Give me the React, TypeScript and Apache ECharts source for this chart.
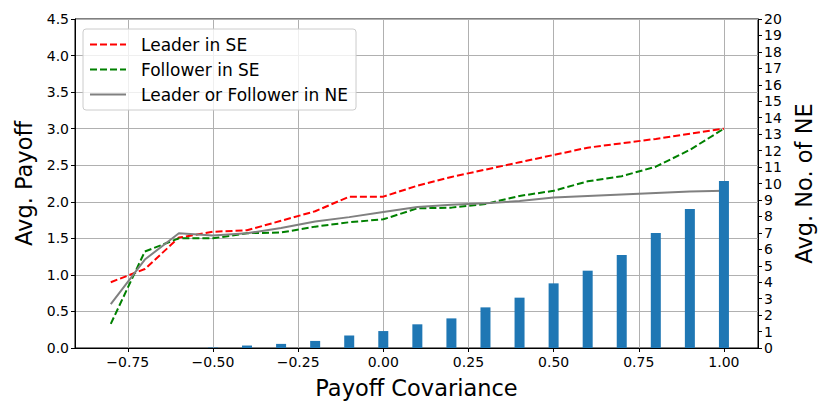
import React, { useEffect, useRef } from "react";
import * as echarts from "echarts";

const xValues = [-0.8, -0.7, -0.6, -0.5, -0.4, -0.3, -0.2, -0.1, 0.0, 0.1, 0.2, 0.3, 0.4, 0.5, 0.6, 0.7, 0.8, 0.9, 1.0];
const leaderSE = [0.90, 1.08, 1.51, 1.59, 1.61, 1.74, 1.87, 2.07, 2.07, 2.22, 2.34, 2.44, 2.54, 2.64, 2.74, 2.80, 2.86, 2.93, 3.00];
const followerSE = [0.33, 1.32, 1.50, 1.50, 1.57, 1.58, 1.66, 1.72, 1.76, 1.91, 1.92, 1.97, 2.08, 2.15, 2.28, 2.35, 2.48, 2.71, 3.00];
const leaderOrFollowerNE = [0.60, 1.21, 1.57, 1.54, 1.57, 1.64, 1.73, 1.79, 1.86, 1.93, 1.96, 1.98, 2.01, 2.06, 2.08, 2.10, 2.12, 2.14, 2.15];

const barX = [-0.5, -0.4, -0.3, -0.2, -0.1, 0.0, 0.1, 0.2, 0.3, 0.4, 0.5, 0.6, 0.7, 0.8, 0.9, 1.0];
const numNE = [0.03, 0.15, 0.25, 0.43, 0.76, 1.03, 1.44, 1.80, 2.47, 3.06, 3.93, 4.70, 5.65, 6.99, 8.45, 10.15];

const xTicks = [-0.75, -0.5, -0.25, 0, 0.25, 0.5, 0.75, 1.0];

const FONT = "DejaVu Sans";

const pairs = (xs: number[], ys: number[]) => xs.map((x, i) => [x, ys[i]]);

export default function App() {
  const ref = useRef<HTMLDivElement>(null);
  useEffect(() => {
    if (!ref.current) return;
    const chart = echarts.init(ref.current, null, { renderer: "svg" });
    const axisText = { color: "#000", fontFamily: FONT, fontSize: 14 };
    chart.setOption({
      animation: false,
      backgroundColor: "#fff",
      textStyle: { fontFamily: FONT },
      grid: {
        left: 75,
        right: 72,
        top: 19,
        bottom: 67,
        show: true,
        borderColor: "#000",
        borderWidth: 1,
        backgroundColor: "transparent",
      },
      legend: {
        left: 83,
        top: 29,
        orient: "vertical",
        itemWidth: 36,
        itemHeight: 14,
        itemGap: 8,
        padding: [7, 8, 7, 6],
        backgroundColor: "rgba(255,255,255,0.8)",
        borderColor: "#cccccc",
        borderWidth: 1,
        borderRadius: 3,
        itemStyle: { opacity: 0 },
        textStyle: { color: "#000", fontFamily: FONT, fontSize: 17, padding: [0, 0, 0, 10] },
        data: ["Leader in SE", "Follower in SE", "Leader or Follower in NE"],
      },
      xAxis: {
        type: "value",
        min: -0.905,
        max: 1.1,
        name: "Payoff Covariance",
        nameLocation: "middle",
        nameGap: 28,
        nameTextStyle: { color: "#000", fontFamily: FONT, fontSize: 22.5 },
        axisLine: { show: true, onZero: false, lineStyle: { color: "#000", width: 1 } },
        axisTick: { show: true, length: 4, customValues: xTicks, lineStyle: { color: "#000" } },
        axisLabel: {
          ...axisText,
          margin: 7,
          customValues: xTicks,
          formatter: (v: number) => v.toFixed(2).replace("-", "\u2212"),
        },
        splitLine: { show: true, lineStyle: { color: "#b0b0b0", width: 1 } },
      },
      yAxis: [
        {
          type: "value",
          min: 0,
          max: 4.5,
          interval: 0.5,
          name: "Avg. Payoff",
          nameLocation: "middle",
          nameRotate: 90,
          nameGap: 32,
          nameTextStyle: { color: "#000", fontFamily: FONT, fontSize: 22.5 },
          axisLine: { show: true, onZero: false, lineStyle: { color: "#000", width: 1 } },
          axisTick: { show: true, length: 4, lineStyle: { color: "#000" } },
          axisLabel: { ...axisText, margin: 6, formatter: (v: number) => v.toFixed(1) },
          splitLine: { show: true, lineStyle: { color: "#b0b0b0", width: 1 } },
        },
        {
          type: "value",
          min: 0,
          max: 20,
          interval: 1,
          position: "right",
          name: "Avg. No. of NE",
          nameLocation: "middle",
          nameRotate: 90,
          nameGap: 33,
          nameTextStyle: { color: "#000", fontFamily: FONT, fontSize: 22.5 },
          axisLine: { show: true, onZero: false, lineStyle: { color: "#000", width: 1 } },
          axisTick: { show: true, length: 4, lineStyle: { color: "#000" } },
          axisLabel: { ...axisText, margin: 6 },
          splitLine: { show: false },
        },
      ],
      series: [
        {
          name: "Leader in SE",
          type: "line",
          yAxisIndex: 0,
          symbol: "none",
          data: pairs(xValues, leaderSE),
          itemStyle: { color: "#ff0000" },
          lineStyle: { color: "#ff0000", width: 2, type: [7, 3] },
          z: 3,
        },
        {
          name: "Follower in SE",
          type: "line",
          yAxisIndex: 0,
          symbol: "none",
          data: pairs(xValues, followerSE),
          itemStyle: { color: "#008000" },
          lineStyle: { color: "#008000", width: 2, type: [7, 3] },
          z: 3,
        },
        {
          name: "Leader or Follower in NE",
          type: "line",
          yAxisIndex: 0,
          symbol: "none",
          data: pairs(xValues, leaderOrFollowerNE),
          itemStyle: { color: "#808080" },
          lineStyle: { color: "#808080", width: 2 },
          z: 3,
        },
        {
          name: "Avg. No. of NE",
          type: "bar",
          yAxisIndex: 1,
          barWidth: 10,
          data: pairs(barX, numNE),
          itemStyle: { color: "#1f77b4" },
          z: 4,
        },
      ],
    });
    return () => chart.dispose();
  }, []);
  return (
    <div
      ref={ref}
      style={{ position: "fixed", left: 0, top: 0, width: 830, height: 415, background: "#fff" }}
    />
  );
}
